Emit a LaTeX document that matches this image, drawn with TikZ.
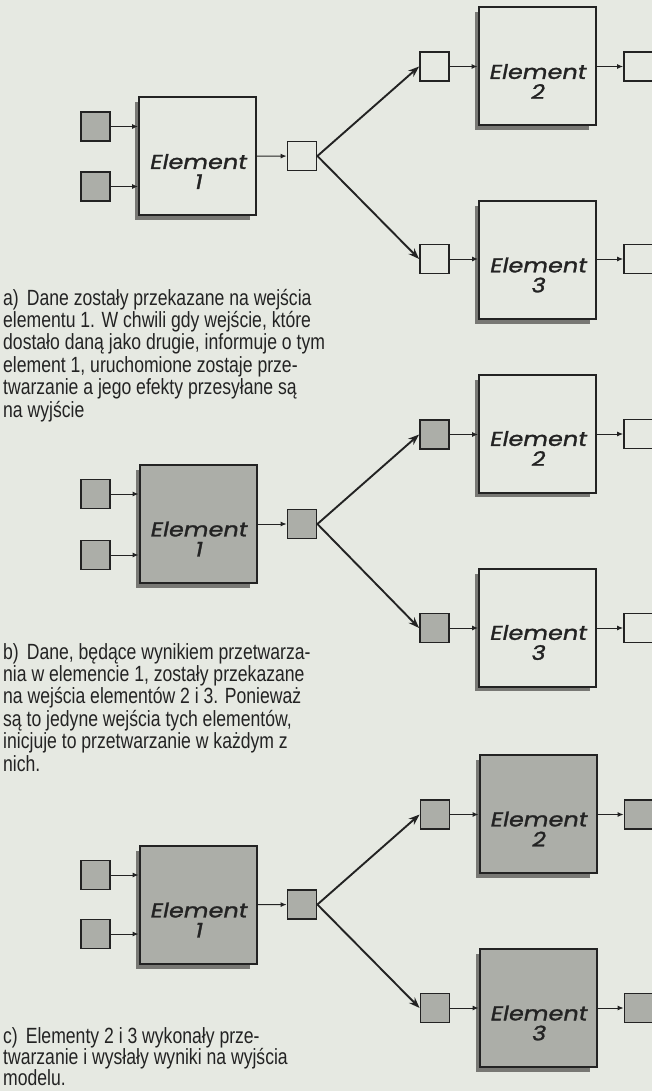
\documentclass[tikz,border=0pt]{standalone}
\usepackage{fontspec}
\setmainfont{Liberation Sans}[FakeStretch=0.80]
\newfontfamily\elfont{Poppins}[FakeSlant=0.2,FakeBold=1.4,FakeStretch=1.2]
\usetikzlibrary{arrows.meta}
\definecolor{paper}{RGB}{230,233,226}
\definecolor{shade}{RGB}{172,174,168}
\definecolor{shadowc}{RGB}{120,120,116}
\definecolor{ink}{RGB}{35,35,35}
\tikzset{
  elem/.style={draw=ink, line width=2pt, minimum width=117pt, minimum height=118pt, inner sep=0pt, fill=paper},
  port/.style={draw=ink, line width=1.8pt, minimum size=29pt, inner sep=0pt, fill=paper},
  full/.style={fill=shade},
  eltext/.style={font=\elfont\fontsize{20}{20}\selectfont, align=center, text=ink, inner sep=0pt},
  conn/.style={-{Latex[length=6pt,width=5pt]}, line width=1pt, draw=ink},
  branch/.style={-{Stealth[length=11pt,width=8pt]}, line width=1.9pt, draw=ink},
  caption/.style={font=\fontsize{22}{22.4}\selectfont, align=left, text=ink, inner sep=0pt, anchor=base west}
}
\newcommand\elbox[5]{%
  \fill[shadowc] (#2-62.5,#3-54) rectangle (#2+52,#3+63.5);
  \node[elem,#5] (#1) at (#2,#3) {};
  \node[eltext] (#1t) at (#2,#3+15) {Element\\#4};
}
\begin{document}
\begin{tikzpicture}[x=1pt,y=-1pt]
\useasboundingbox (0,0) rectangle (652,1091);
\clip (0,0) rectangle (652,1091);
\fill[paper] (0,0) rectangle (652,1091);

% ---------------- panel a
\elbox{a1}{197.5}{156.5}{1}{}
\node[port,full] (ai1) at (95.5,126.5) {};
\node[port,full] (ai2) at (95.5,186.5) {};
\node[port] (ao) at (302,156) {};
\elbox{a2}{537}{66.5}{2}{}
\node[port] (a2i) at (434.5,66.5) {};
\node[port] (a2o) at (638.5,66.5) {};
\elbox{a3}{537.5}{260}{3}{}
\node[port] (a3i) at (434.5,259) {};
\node[port] (a3o) at (638.5,259) {};
\draw[conn] (ai1) -- (ai1 -| a1.west);
\draw[conn] (ai2) -- (ai2 -| a1.west);
\draw[conn] (a1) -- (ao);
\draw[branch] (ao.east) -- (a2i.west);
\draw[branch] (ao.east) -- (a3i.west);
\draw[conn] (a2i) -- (a2i -| a2.west);
\draw[conn] (a2) -- (a2o);
\draw[conn] (a3i) -- (a3i -| a3.west);
\draw[conn] (a3o -| a3.east) -- (a3o);

\node[caption] (capa) at (3,417) {a)\hspace{8pt}Dane zostały przekazane na wejścia\\
elementu 1. W chwili gdy wejście, które\\
dostało daną jako drugie, informuje o tym\\
element 1, uruchomione zostaje prze-\\
twarzanie a jego efekty przesyłane są\\
na wyjście};

% ---------------- panel b
\elbox{b1}{198}{524}{1}{full}
\node[port,full] (bi1) at (95.5,494) {};
\node[port,full] (bi2) at (95.5,555) {};
\node[port,full] (bo) at (302,524) {};
\elbox{b2}{537.5}{433.5}{2}{}
\node[port,full] (b2i) at (434.5,434.5) {};
\node[port] (b2o) at (638.5,434) {};
\elbox{b3}{537.5}{627.5}{3}{}
\node[port,full] (b3i) at (434.5,628) {};
\node[port] (b3o) at (638.5,628) {};
\draw[conn] (bi1) -- (bi1 -| b1.west);
\draw[conn] (bi2) -- (bi2 -| b1.west);
\draw[conn] (b1) -- (bo);
\draw[branch] (bo.east) -- (b2i.west);
\draw[branch] (bo.east) -- (b3i.west);
\draw[conn] (b2i) -- (b2i -| b2.west);
\draw[conn] (b2o -| b2.east) -- (b2o);
\draw[conn] (b3i) -- (b3i -| b3.west);
\draw[conn] (b3o -| b3.east) -- (b3o);

\node[caption] (capb) at (3,771) {b)\hspace{8pt}Dane, będące wynikiem przetwarza-\\
nia w elemencie 1, zostały przekazane\\
na wejścia elementów 2 i 3. Ponieważ\\
są to jedyne wejścia tych elementów,\\
inicjuje to przetwarzanie w każdym z\\
nich.};

% ---------------- panel c
\elbox{c1}{198}{905}{1}{full}
\node[port,full] (ci1) at (95.5,875) {};
\node[port,full] (ci2) at (95.5,934) {};
\node[port,full] (co) at (302,904.5) {};
\elbox{c2}{538}{814}{2}{full}
\node[port,full] (c2i) at (435,814.5) {};
\node[port,full] (c2o) at (639,814.5) {};
\elbox{c3}{538}{1008}{3}{full}
\node[port,full] (c3i) at (435,1008) {};
\node[port,full] (c3o) at (639,1008) {};
\draw[conn] (ci1) -- (ci1 -| c1.west);
\draw[conn] (ci2) -- (ci2 -| c1.west);
\draw[conn] (c1) -- (co);
\draw[branch] (co.east) -- (c2i.west);
\draw[branch] (co.east) -- (c3i.west);
\draw[conn] (c2i) -- (c2i -| c2.west);
\draw[conn] (c2o -| c2.east) -- (c2o);
\draw[conn] (c3i) -- (c3i -| c3.west);
\draw[conn] (c3o -| c3.east) -- (c3o);

\node[caption,font=\fontsize{22}{21}\selectfont] (capc) at (3,1085) {c)\hspace{8pt}Elementy 2 i 3 wykonały prze-\\
twarzanie i wysłały wyniki na wyjścia\\
modelu.};
\end{tikzpicture}
\end{document}
